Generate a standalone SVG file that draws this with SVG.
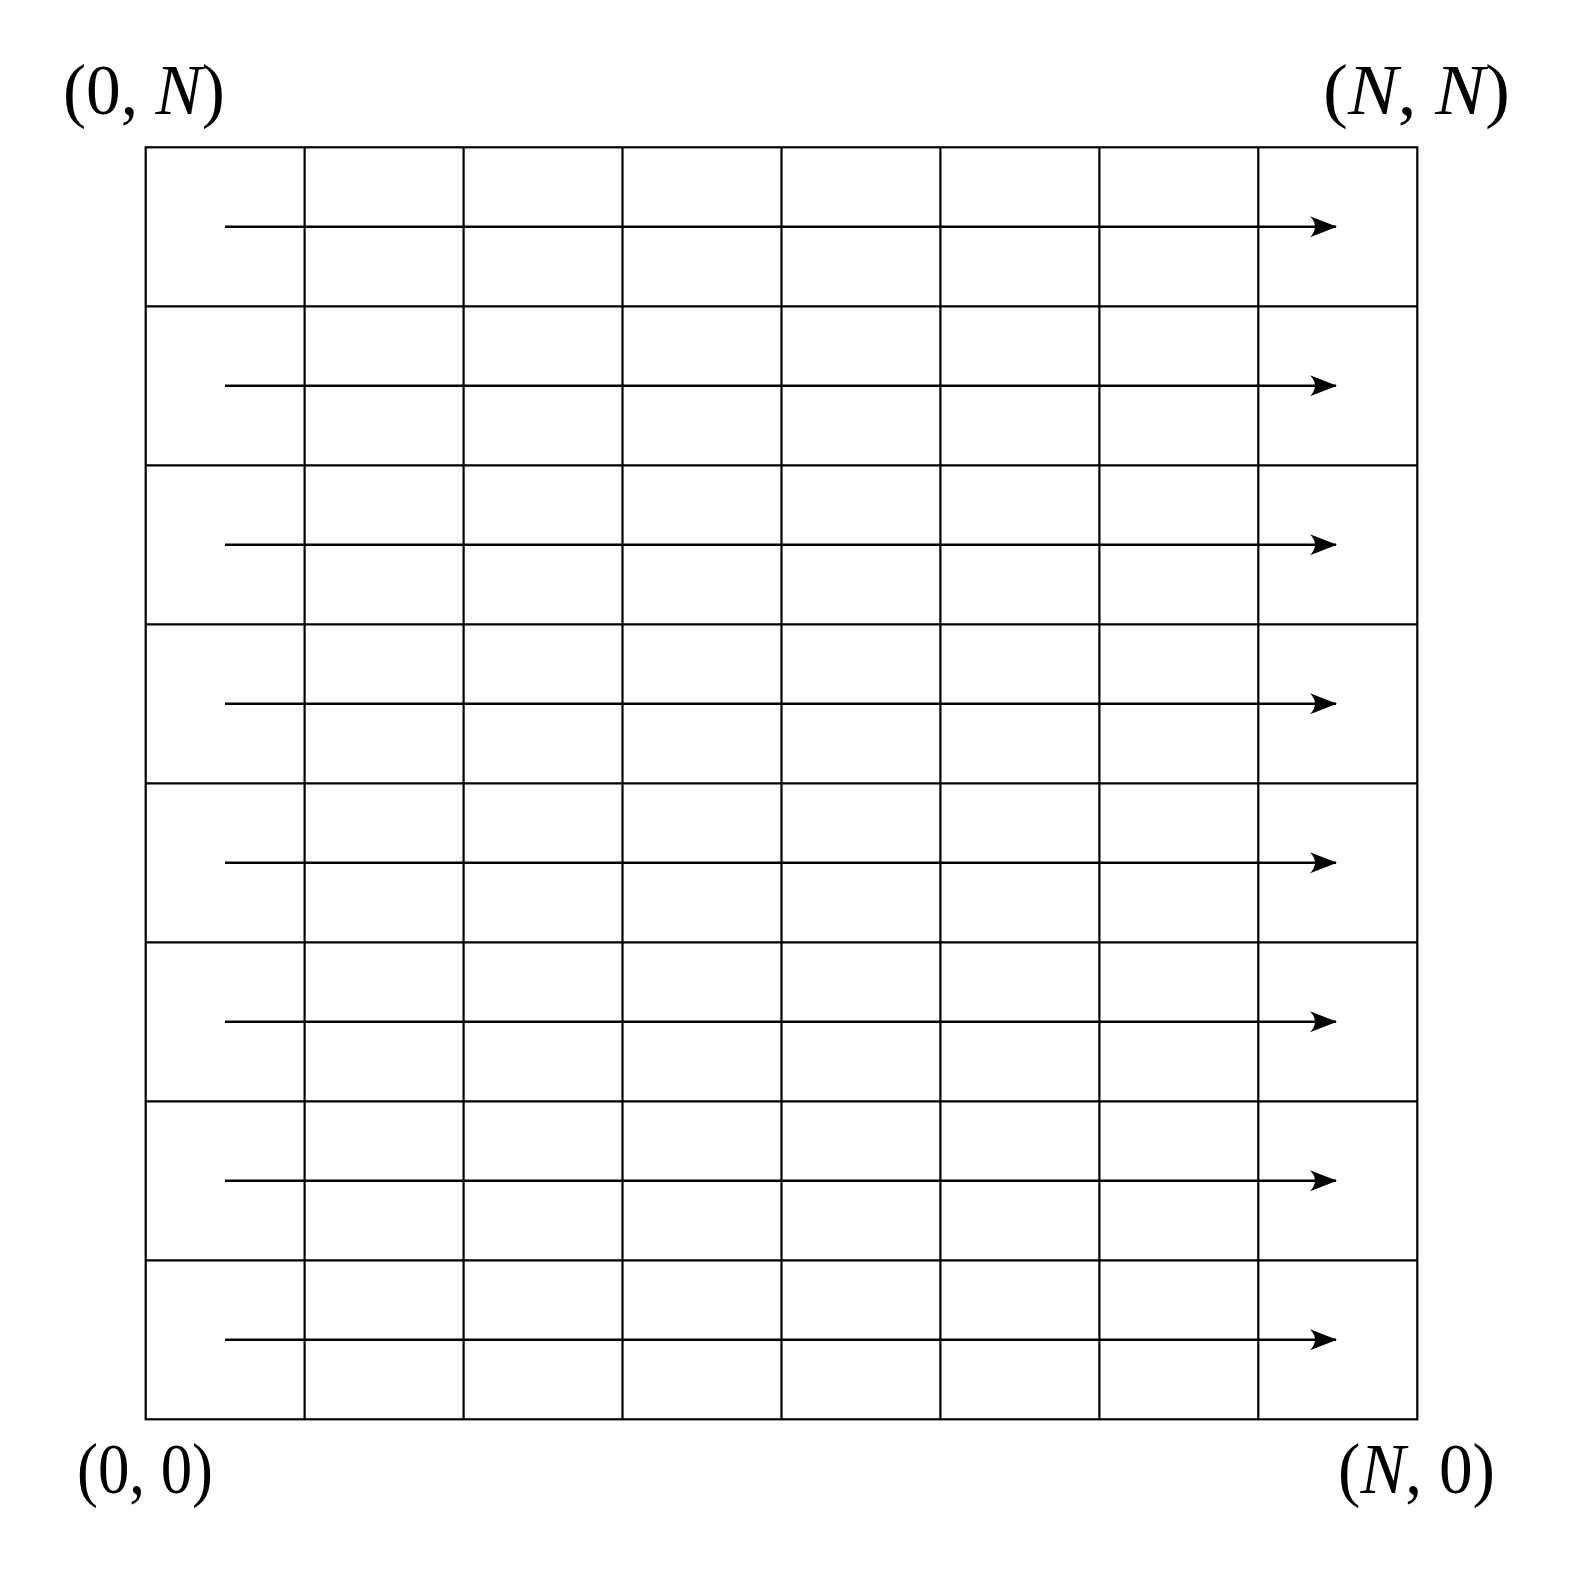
<svg xmlns="http://www.w3.org/2000/svg" width="1584" height="1582" viewBox="0 0 1584 1582">
<style>
.g{stroke:#000;stroke-width:2.2;fill:none}
.a{stroke:#000;stroke-width:2.4;fill:none;marker-end:url(#ah)}
.t{font-family:"Liberation Serif","Times New Roman",serif;font-size:72px;fill:#000}
.i{font-style:italic}
</style>
<defs>
<marker id="ah" markerUnits="userSpaceOnUse" markerWidth="32" markerHeight="26" viewBox="-29 -13 32 26" refX="0" refY="0" orient="auto">
<path d="M1,0 L-26,-10.5 Q-16,0 -26,10.5 Z" fill="#000"/>
</marker>
</defs>
<rect width="1584" height="1582" fill="#fff"/>
<g id="grid" class="g">
<rect x="145.7" y="147.3" width="1271.6" height="1272"/>
<path d="M304.6,147.3V1419.3M463.6,147.3V1419.3M622.5,147.3V1419.3M781.5,147.3V1419.3M940.4,147.3V1419.3M1099.4,147.3V1419.3M1258.3,147.3V1419.3"/>
<path d="M145.7,306.3H1417.3M145.7,465.3H1417.3M145.7,624.3H1417.3M145.7,783.3H1417.3M145.7,942.3H1417.3M145.7,1101.3H1417.3M145.7,1260.3H1417.3"/>
</g>
<g id="connectors">
<path class="a" d="M225,226.8H1336"/>
<path class="a" d="M225,385.8H1336"/>
<path class="a" d="M225,544.8H1336"/>
<path class="a" d="M225,703.8H1336"/>
<path class="a" d="M225,862.8H1336"/>
<path class="a" d="M225,1021.8H1336"/>
<path class="a" d="M225,1180.8H1336"/>
<path class="a" d="M225,1339.8H1336"/>
</g>
<g id="labels">
<text id="lbl-0N" class="t" x="63" y="114" textLength="162" lengthAdjust="spacingAndGlyphs">(0, <tspan class="i">N</tspan>)</text>
<text id="lbl-NN" class="t" x="1323" y="114" textLength="187" lengthAdjust="spacingAndGlyphs">(<tspan class="i">N</tspan>, <tspan class="i">N</tspan>)</text>
<text id="lbl-00" class="t" x="77" y="1493" textLength="136" lengthAdjust="spacingAndGlyphs">(0, 0)</text>
<text id="lbl-N0" class="t" x="1338" y="1493" textLength="157" lengthAdjust="spacingAndGlyphs">(<tspan class="i">N</tspan>, 0)</text>
</g>
</svg>
